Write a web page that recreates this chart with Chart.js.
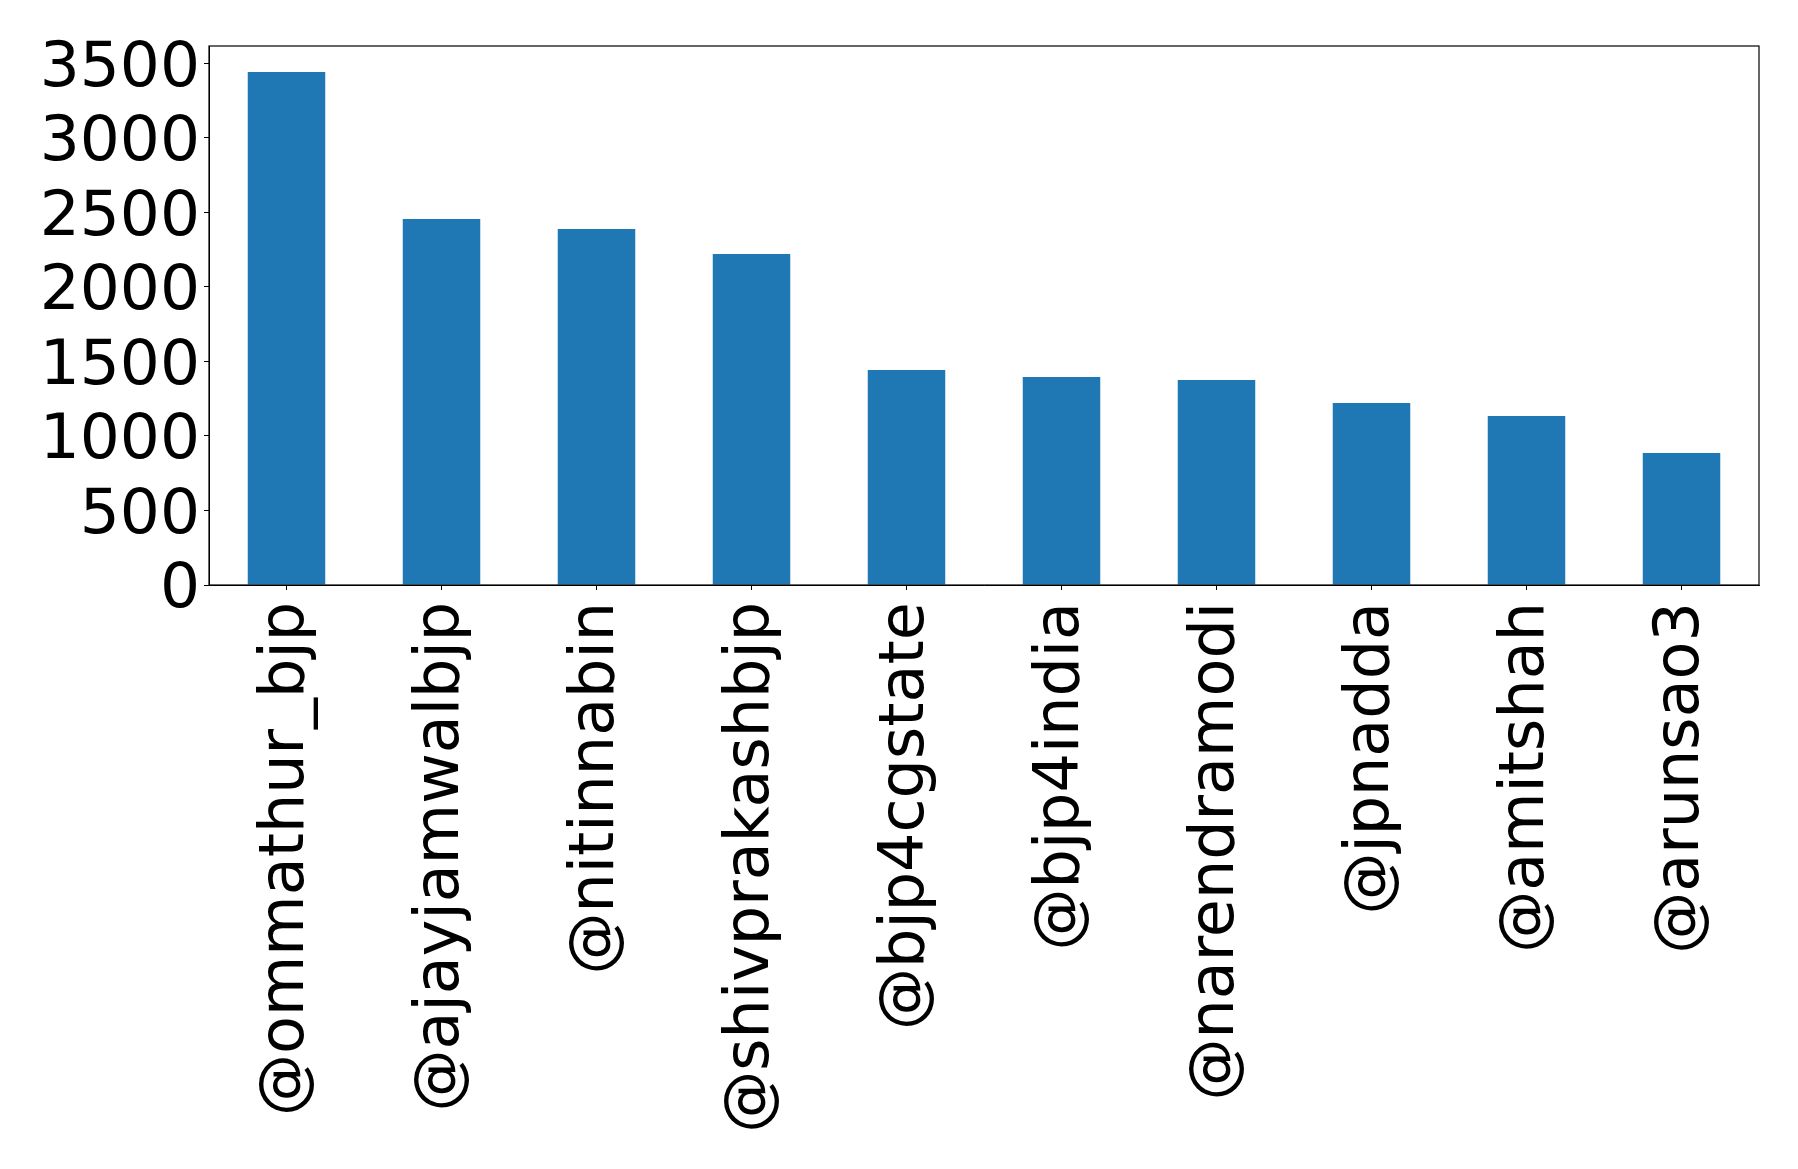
<!DOCTYPE html>
<html lang="en">
<head>
  <meta charset="UTF-8" />
  <title>Mentions bar chart</title>
  <script src="https://cdn.jsdelivr.net/npm/chart.js"></script>
  <style>
    html, body { margin: 0; padding: 0; background: #fff; }
    .chart-wrapper { width: 1798px; height: 1169px; }
  </style>
</head>
<body>
  <div class="chart-wrapper">
    <canvas id="barChart"></canvas>
  </div>
  <script>
    const handles = ['@ommathur_bjp', '@ajayjamwalbjp', '@nitinnabin', '@shivprakashbjp', '@bjp4cgstate',
                     '@bjp4india', '@narendramodi', '@jpnadda', '@amitshah', '@arunsao3'];
    const counts = [3443, 2456, 2389, 2221, 1443, 1396, 1376, 1221, 1134, 886];
    const yTicks = [0, 500, 1000, 1500, 2000, 2500, 3000, 3500];
    const yMax = 3617;

    // frame around the plot area, like matplotlib's spines
    const framePlugin = {
      id: 'frame',
      afterDraw(chart) {
        const a = chart.chartArea;
        const c = chart.ctx;
        c.save();
        c.strokeStyle = '#000';
        c.lineWidth = 1.2;
        c.strokeRect(a.left, a.top, a.right - a.left, a.bottom - a.top);
        c.restore();
      }
    };

    new Chart(document.getElementById('barChart'), {
      type: 'bar',
      data: {
        labels: handles,
        datasets: [{
          data: counts,
          backgroundColor: '#1f77b4',
          barPercentage: 0.5,
          categoryPercentage: 1.0
        }]
      },
      options: {
        responsive: true,
        maintainAspectRatio: false,
        animation: false,
        layout: { padding: { top: 46, right: 39, left: 0, bottom: 0 } },
        plugins: { legend: { display: false }, tooltip: { enabled: false } },
        scales: {
          x: {
            grid: { display: true, offset: false, drawOnChartArea: false, drawTicks: true, tickLength: 5, color: '#000' },
            border: { display: true, color: '#000' },
            ticks: {
              minRotation: 90, maxRotation: 90, autoSkip: false, padding: 12,
              color: '#000', font: { family: 'DejaVu Sans', size: 62 }
            },
            afterFit(scale) { scale.height = 584; }
          },
          y: {
            min: 0, max: yMax,
            grid: { display: true, drawOnChartArea: false, drawTicks: true, tickLength: 5, color: '#000' },
            border: { display: true, color: '#000' },
            ticks: {
              padding: 4, autoSkip: false, labelOffset: 6,
              color: '#000', font: { family: 'DejaVu Sans', size: 63 },
              callback: v => String(v)
            },
            afterBuildTicks(scale) { scale.ticks = yTicks.map(v => ({ value: v })); },
            afterFit(scale) { scale.width = 209; }
          }
        }
      },
      plugins: [framePlugin]
    });
  </script>
</body>
</html>
